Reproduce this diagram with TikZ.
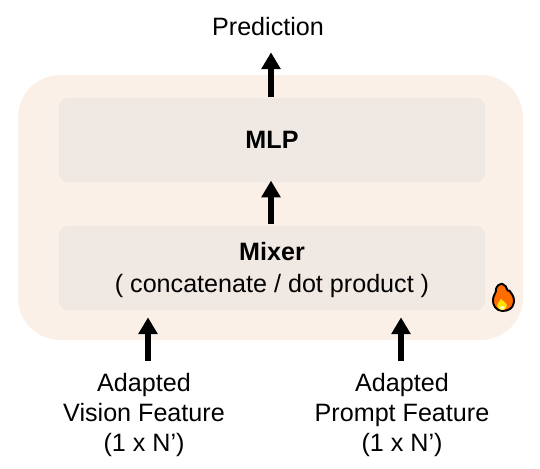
\documentclass[tikz,border=0pt]{standalone}
\usepackage{fontspec}
\setmainfont{Liberation Sans}
\usetikzlibrary{arrows.meta}
\definecolor{outerfill}{HTML}{FAF0E8}
\definecolor{innerfill}{HTML}{F0E8E3}
\tikzset{
	blockbox/.style={fill=innerfill,rounded corners=5pt,minimum width=8.52cm,minimum height=1.68cm,align=center,inner sep=0pt},
	label/.style={align=center,inner sep=0pt,font=\fontsize{14.3}{17}\selectfont},
	flow/.style={line width=2.9pt,-{Triangle[length=9.5pt,width=10.5pt]}}
}
\begin{document}
\begin{tikzpicture}[x=0.02cm,y=-0.02cm]
	\useasboundingbox (0,0) rectangle (540,468);
	\fill[outerfill,rounded corners=24pt] (18,75) rectangle (523,340);
	\node[blockbox] (mlp) at (272,140) {};
	\node[blockbox] (mixer) at (272,268) {};
	\node[label,font=\fontsize{14.3}{17}\selectfont\bfseries] at (272,140) (mlptext) {MLP};
	\node[label,font=\fontsize{14.3}{18}\selectfont] at (272,270) (mixertext) {\textbf{Mixer}\\( concatenate / dot product )};
	\node[label] at (268,27) (pred) {Prediction};
	\node[label] at (144,415) (vision) {Adapted\\Vision Feature\\(1 x N’)};
	\node[label] at (402,415) (prompt) {Adapted\\Prompt Feature\\(1 x N’)};
	\coordinate (vistart) at (148,361);
	\coordinate (prstart) at (401,361);
	\coordinate (mlpout) at (271,97);
	\coordinate (mixout) at (271,224);
	\draw[flow] (mlpout) -- ([yshift=-9pt]mlpout |- pred.south);
	\draw[flow] (mixout) -- ([yshift=1pt]mixout |- mlp.south);
	\draw[flow] (vistart) -- ([yshift=-4pt]vistart |- mixer.south);
	\draw[flow] (prstart) -- ([yshift=-4pt]prstart |- mixer.south);
	% flame
	\begin{scope}[shift={(470,270)},x=0.00667cm,y=-0.00667cm]
		\draw[fill=orange!85!red,line width=1.1pt,line join=round]
		(97,123) .. controls (78,122) and (67,105) .. (69,88) .. controls (70,74) and (80,68) .. (78,56)
		.. controls (82,46) and (88,42) .. (96,41) .. controls (106,44) and (110,52) .. (113,62)
		.. controls (118,60) and (120,62) .. (121,66) .. controls (130,76) and (134,88) .. (131,100)
		.. controls (128,115) and (115,123) .. (97,123) -- cycle;
		\fill[yellow!85!orange] (96,120) .. controls (84,119) and (79,108) .. (84,100) .. controls (88,96) and (91,92) .. (93,87)
		.. controls (99,92) and (102,96) .. (108,100) .. controls (114,108) and (108,120) .. (96,120) -- cycle;
		\fill[white!70!yellow] (96,119) .. controls (90,118) and (88,113) .. (91,109) .. controls (97,107) and (103,108) .. (104,112) .. controls (104,116) and (100,119) .. (96,119) -- cycle;
	\end{scope}
\end{tikzpicture}
\end{document}
